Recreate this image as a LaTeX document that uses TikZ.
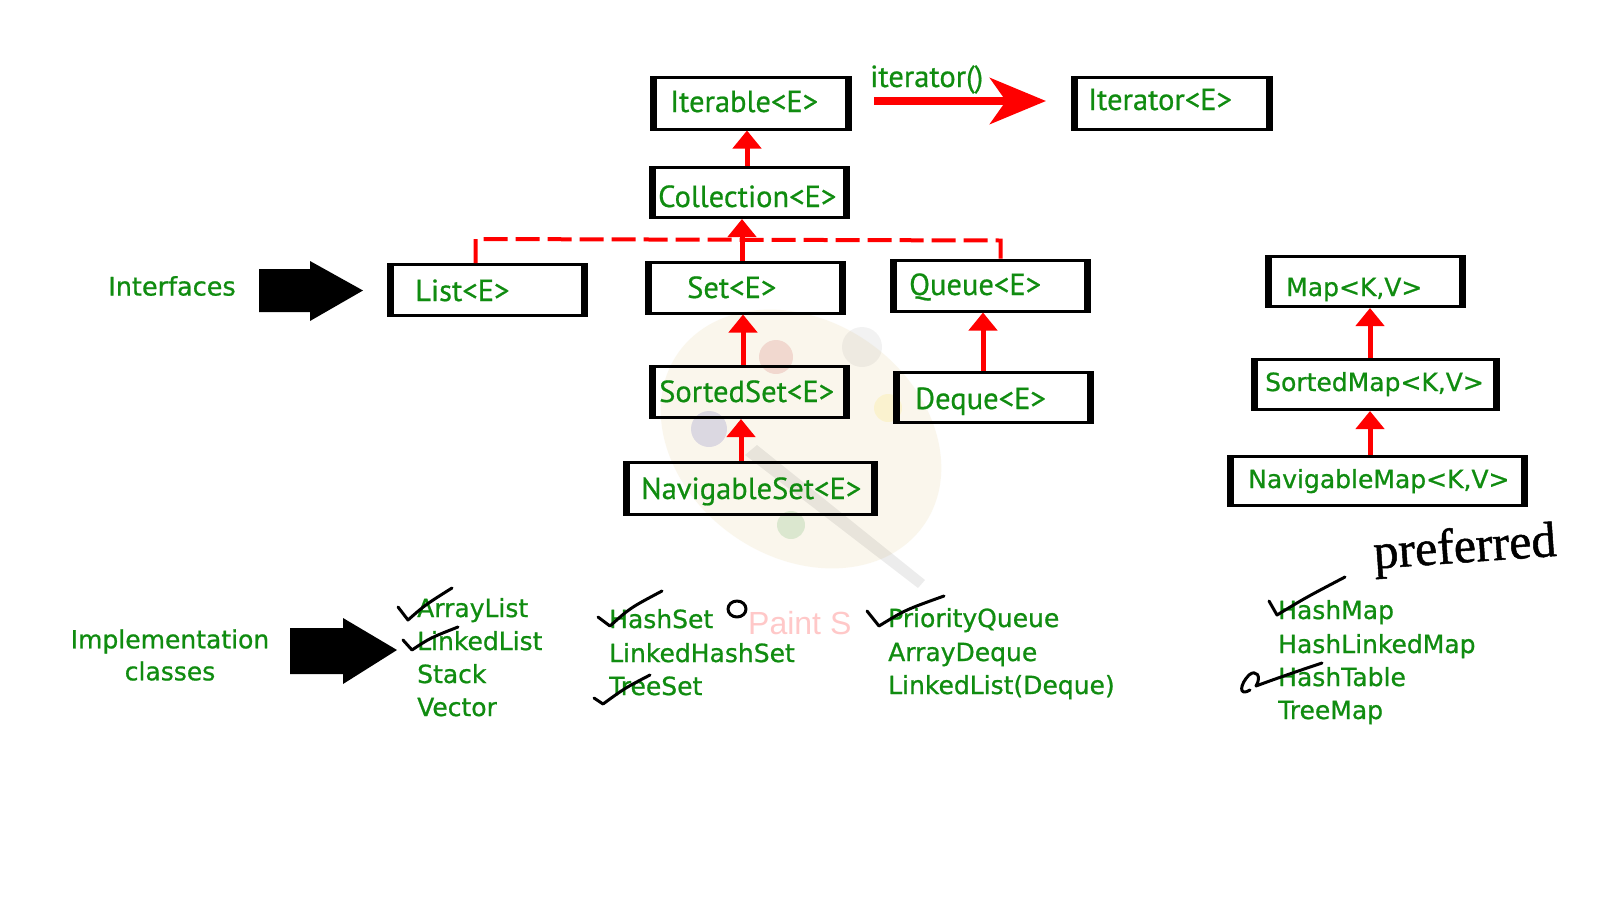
\documentclass[tikz,border=0pt]{standalone}
\usepackage{fontspec}
\setmainfont{DejaVu Sans}
\newfontfamily\boxfont[FakeBold=0.6]{PT Sans}
\newfontfamily\lstfont[FakeBold=0.8]{DejaVu Sans}
\newfontfamily\paintfont{Liberation Sans}
\newfontfamily\handfont[FakeBold=1]{Liberation Serif}
\usetikzlibrary{arrows.meta}
\definecolor{txtgreen}{RGB}{16,140,16}
\definecolor{arrred}{RGB}{255,0,0}
\definecolor{pinkwm}{RGB}{255,200,200}
\definecolor{palbase}{RGB}{240,228,195}
\begin{document}
\begin{tikzpicture}[x=1pt,y=-1pt,
  box/.style={draw=black, line width=3pt, minimum height=51pt, inner sep=0pt},
  boxtxt/.style={anchor=base west, text=txtgreen, inner sep=0pt, font=\boxfont\fontsize{30.5}{30.5}\selectfont},
  maptxt/.style={anchor=base west, text=txtgreen, inner sep=0pt, font=\lstfont\fontsize{25}{25}\selectfont},
  lsttxt/.style={anchor=base west, text=txtgreen, inner sep=0pt, font=\lstfont\fontsize{25}{25}\selectfont},
  uparrow/.style={draw=arrred, line width=5pt, -{Triangle[length=18pt,width=28pt]}},
  reddash/.style={draw=arrred, line width=4pt, dash pattern=on 24pt off 8pt},
  bigarrow/.style={draw=arrred, line width=8pt, -{Stealth[length=56pt,width=46pt,inset=16pt]}},
  check/.style={draw=black, line width=3pt, line cap=round, line join=round},
  blockarrow/.style={fill=black}
]
\useasboundingbox (0,0) rectangle (1600,900);
\fill[white] (0,0) rectangle (1600,900);

% faint palette watermark
\begin{scope}[opacity=0.3]
  \fill[palbase, rotate around={-35:(801,439)}] (801,439) ellipse (150 and 118);
\end{scope}
\begin{scope}[opacity=0.12]
  \fill[black!60] (745,455) -- (757,445) -- (925,580) -- (918,588) -- cycle;
  \fill[red!70!black] (776,357) circle (17);
  \fill[black!40] (862,347) circle (20);
  \fill[blue!60!black] (709,429) circle (18);
  \fill[yellow!80!orange] (888,408) circle (14);
  \fill[green!50!black] (791,525) circle (14);
\end{scope}
\node[anchor=base west, inner sep=0pt, text=pinkwm, font=\paintfont\fontsize{32}{32}\selectfont] (paint) at (748,634) {Paint S};

% boxes
\node[box, minimum width=199pt, minimum height=52pt] (iterable) at (751,103) {};
\node[box, minimum width=199pt, minimum height=52pt] (iterator) at (1172,103) {};
\node[box, minimum width=198pt, minimum height=50pt] (collection) at (749.5,192.5) {};
\node[box, minimum width=198pt] (list) at (487.5,290) {};
\node[box, minimum width=198pt] (set) at (745.5,287.5) {};
\node[box, minimum width=198pt] (queue) at (990.5,285.5) {};
\node[box, minimum width=198pt] (sortedset) at (749.5,392) {};
\node[box, minimum width=198pt, minimum height=50pt] (deque) at (993.5,397.5) {};
\node[box, minimum width=252pt, minimum height=52pt] (navset) at (750.5,488.5) {};
\node[box, minimum width=198pt, minimum height=50pt] (map) at (1365.5,281.5) {};
\node[box, minimum width=246pt, minimum height=50pt] (sortedmap) at (1375.5,384.5) {};
\node[box, minimum width=298pt, minimum height=49pt] (navmap) at (1377.5,481) {};

\foreach \n in {iterable,iterator,collection,list,set,queue,sortedset,deque,navset,map,sortedmap,navmap}{
  \fill[black] (\n.north west) rectangle ([xshift=7pt]\n.south west);
  \fill[black] ([xshift=-7pt]\n.north east) rectangle (\n.south east);
}

% box labels
\node[boxtxt] (titerable) at (670,112) {Iterable<E>};
\node[boxtxt] (titerator) at (1088,110) {Iterator<E>};
\node[boxtxt] (tcollection) at (658,207) {Collection<E>};
\node[boxtxt] (tlist) at (415,301) {List<E>};
\node[boxtxt] (tset) at (687,298) {Set<E>};
\node[boxtxt] (tqueue) at (909,295) {Queue<E>};
\node[boxtxt] (tsortedset) at (659,402) {SortedSet<E>};
\node[boxtxt] (tdeque) at (915,409) {Deque<E>};
\node[boxtxt] (tnavset) at (641,499) {NavigableSet<E>};
\node[maptxt] (tmap) at (1286,296) {Map<K,V>};
\node[maptxt] (tsortedmap) at (1265,391) {SortedMap<K,V>};
\node[maptxt] (tnavmap) at (1248,488) {NavigableMap<K,V>};
\node[boxtxt] (titer) at (870,87) {iterator()};

% connectors
\draw[bigarrow, shorten <=22pt, shorten >=25pt] ([yshift=2pt]iterable.east) -- ([yshift=2pt]iterator.west);
\draw[uparrow] ([xshift=-2.5pt]collection.north) -- ([xshift=-2.5pt]collection.north |- iterable.south);
\draw[reddash] ([xshift=-12pt]list.north) -- ([xshift=-12pt,yshift=24pt]list.north) -- ([xshift=10pt,yshift=18pt]queue.north) -- ([xshift=10pt]queue.north);
\draw[uparrow] ([xshift=-3.5pt]set.north) -- ([xshift=-3.5pt]set.north |- collection.south);
\draw[uparrow] ([xshift=-6.5pt]sortedset.north) -- ([xshift=-6.5pt]sortedset.north |- set.south);
\draw[uparrow] ([xshift=-9.5pt]navset.north) -- ([xshift=-9.5pt]navset.north |- sortedset.south);
\draw[uparrow] ([xshift=-10.5pt]deque.north) -- ([xshift=-10.5pt]deque.north |- queue.south);
\draw[uparrow] ([xshift=-5.5pt]sortedmap.north) -- ([xshift=-5.5pt]sortedmap.north |- map.south);
\draw[uparrow] ([xshift=-7.5pt]navmap.north) -- ([xshift=-7.5pt]navmap.north |- sortedmap.south);

% left labels and block arrows
\node[text=txtgreen, inner sep=0pt, font=\lstfont\fontsize{25.5}{25.5}\selectfont] (interfaces) at (172,286) {Interfaces};
\fill[blockarrow] (259,269) -- (310,269) -- (310,261) -- (363,290.5) -- (310,321) -- (310,312) -- (259,312) -- cycle;
\node[text=txtgreen, inner sep=0pt, align=center, font=\lstfont\fontsize{25}{32}\selectfont] (impl) at (170,655) {Implementation\\classes};
\fill[blockarrow] (290,628) -- (343,628) -- (343,618) -- (397,650) -- (343,684) -- (343,674) -- (290,674) -- cycle;

% implementation lists
\node[lsttxt] (l1) at (417,617) {ArrayList};
\node[lsttxt] (l2) at (417,650) {LinkedList};
\node[lsttxt] (l3) at (417,683) {Stack};
\node[lsttxt] (l4) at (417,716) {Vector};
\node[lsttxt] (s1) at (609,628) {HashSet};
\node[lsttxt] (s2) at (609,662) {LinkedHashSet};
\node[lsttxt] (s3) at (609,695) {TreeSet};
\node[lsttxt] (q1) at (888,627) {PriorityQueue};
\node[lsttxt] (q2) at (888,661) {ArrayDeque};
\node[lsttxt] (q3) at (888,694) {LinkedList(Deque)};
\node[lsttxt] (m1) at (1278,619) {HashMap};
\node[lsttxt] (m2) at (1278,653) {HashLinkedMap};
\node[lsttxt] (m3) at (1278,686) {HashTable};
\node[lsttxt] (m4) at (1278,719) {TreeMap};

% handwritten marks
\draw[check] (398,607) -- (408,620) .. controls (425,605) .. (452,588);
\draw[check] (403,640) -- (412,650) .. controls (430,638) .. (458,627);
\draw[check] (598,617) -- (610,626) .. controls (630,608) .. (662,591);
\draw[check] (594,698) -- (603,704) .. controls (625,688) .. (650,675);
\draw[check] (867,611) -- (879,626) .. controls (905,610) .. (944,596);
\draw[check] (1269,601) -- (1277,615) .. controls (1305,598) .. (1345,577);
\draw[check] (1322,663) .. controls (1295,672) and (1272,680) .. (1256,686)
  .. controls (1262,676) and (1256,669) .. (1249,675)
  .. controls (1240,684) and (1238,697) .. (1250,690);
\draw[check] (737,609) ellipse (9 and 8);
\node[rotate=4, inner sep=0pt, font=\handfont\fontsize{50}{50}\selectfont] (pref) at (1465,550) {preferred};
\end{tikzpicture}
\end{document}
